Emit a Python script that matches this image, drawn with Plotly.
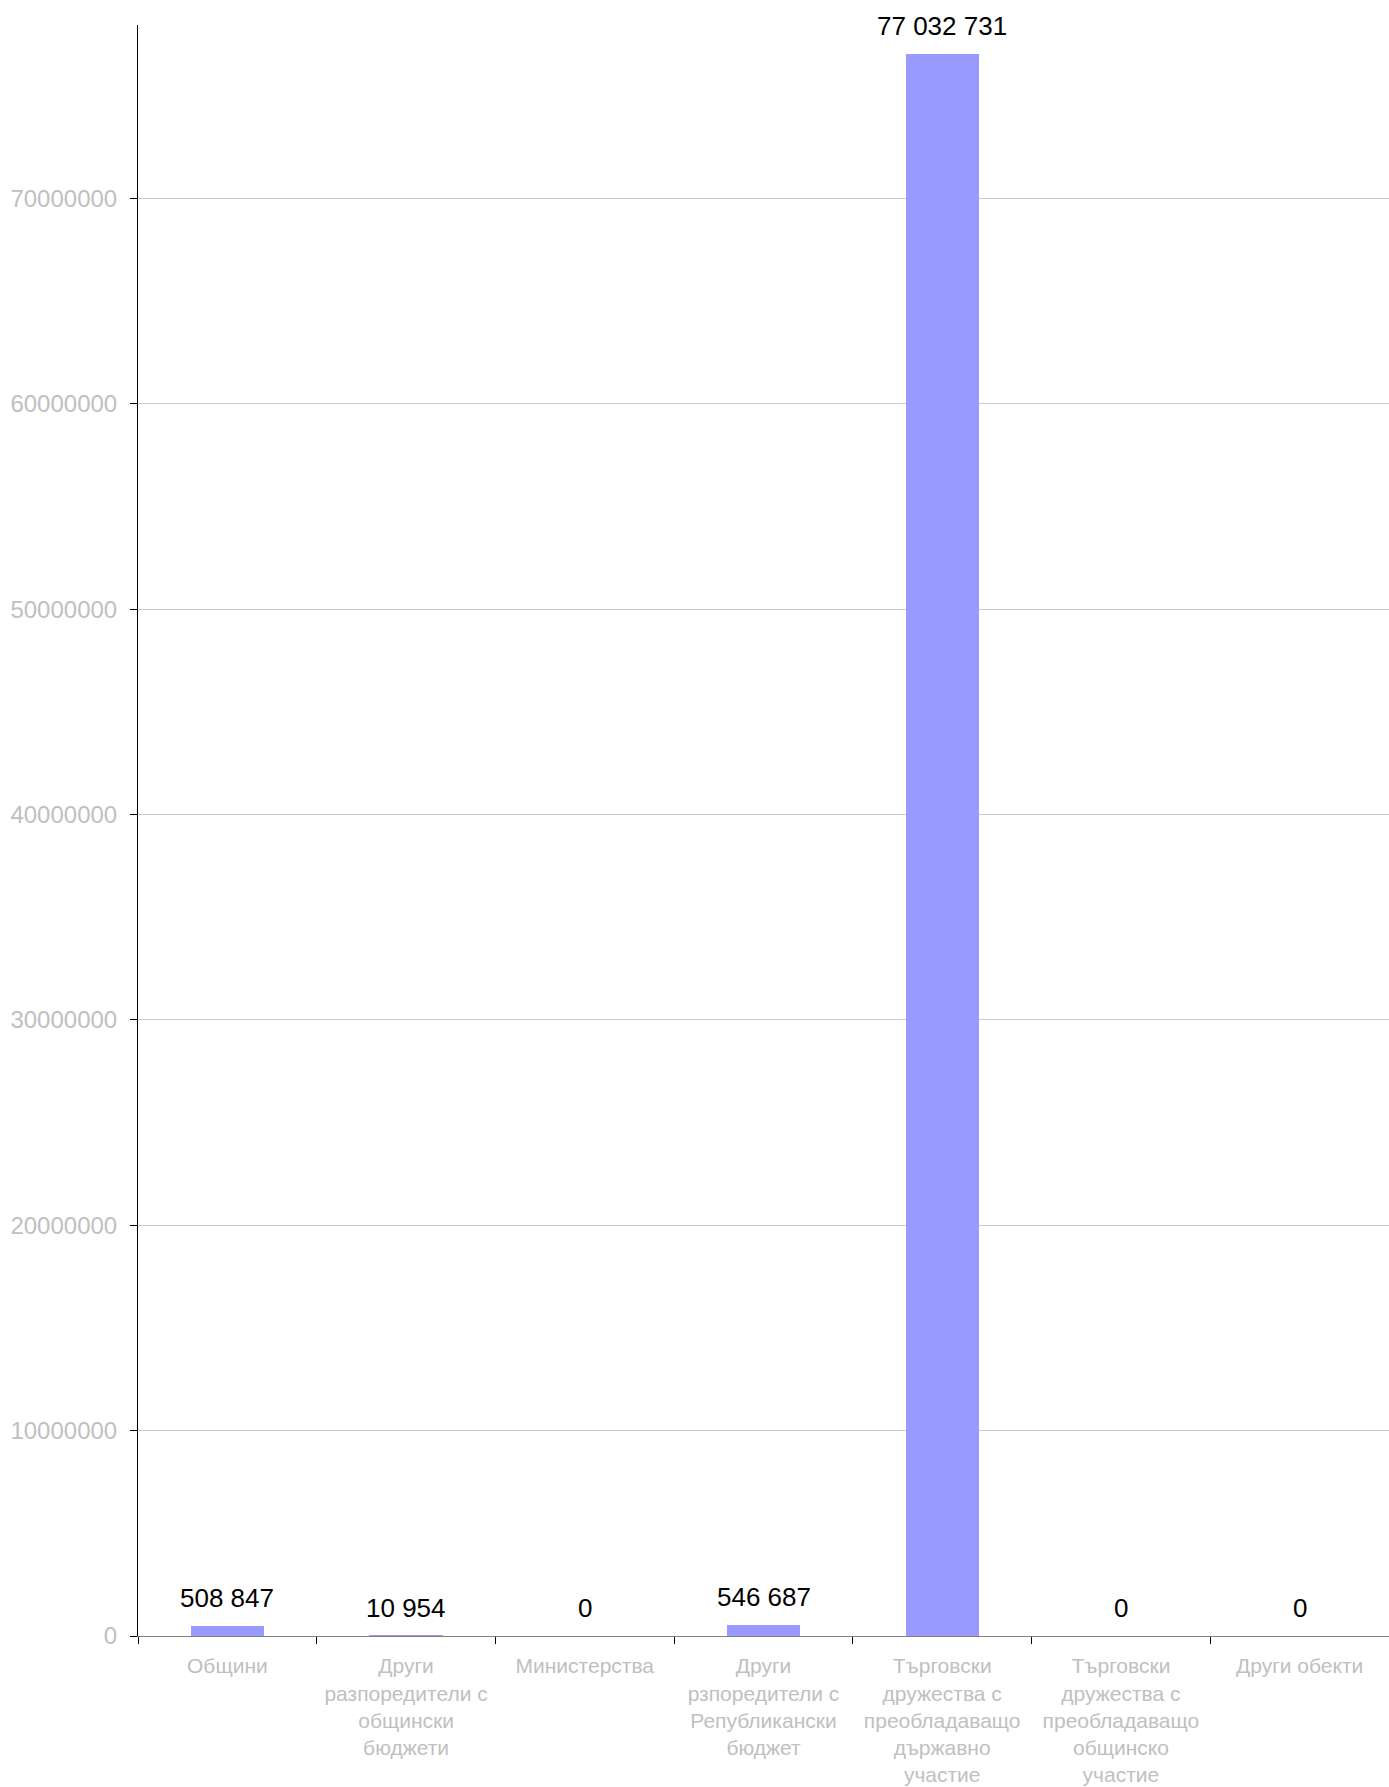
import plotly.graph_objects as go

categories = ["Общини", "Други разпоредители с общински бюджети", "Министерства",
              "Други рзпоредители с Републикански бюджет",
              "Търговски дружества с преобладаващо държавно участие",
              "Търговски дружества с преобладаващо общинско участие",
              "Други обекти"]
tick_labels = ["Общини", "Други<br>разпоредители с<br>общински<br>бюджети", "Министерства",
               "Други<br>рзпоредители с<br>Републикански<br>бюджет",
               "Търговски<br>дружества с<br>преобладаващо<br>държавно<br>участие",
               "Търговски<br>дружества с<br>преобладаващо<br>общинско<br>участие",
               "Други обекти"]
values = [508847, 10954, 0, 546687, 77032731, 0, 0]
y_ticks = [0, 10000000, 20000000, 30000000, 40000000, 50000000, 60000000, 70000000]


def fmt(v):
    return f"{v:,}".replace(",", " ")


fig = go.Figure(go.Bar(x=categories, y=values, width=0.41,
                       marker=dict(color="#9999FF", line=dict(width=0)),
                       hoverinfo="skip"))

for c, v in zip(categories, values):
    fig.add_annotation(x=c, y=v, text=fmt(v), showarrow=False, yanchor="bottom",
                       yshift=11, font=dict(family="Liberation Sans, Arial", size=26, color="#000000"))

fig.update_layout(
    width=1389, height=1787,
    margin=dict(l=138, r=0, t=25, b=151),
    paper_bgcolor="white", plot_bgcolor="white",
    showlegend=False, bargap=0,
    font=dict(family="Liberation Sans, Arial"),
)
fig.update_xaxes(
    type="category", tickvals=categories, ticktext=tick_labels,
    tickson="boundaries", ticks="outside", ticklen=7, tickcolor="#000000",
    showline=True, linecolor="#808080", linewidth=1, showgrid=False,
    tickfont=dict(size=21, color="#c0c0c0"), tickangle=0,
    automargin=False, ticklabelstandoff=11,
)
fig.update_yaxes(
    range=[0, 78440000], tickvals=y_ticks, tickformat="d",
    ticks="outside", ticklen=7, tickcolor="#000000",
    showline=True, linecolor="#000000", linewidth=1,
    showgrid=True, gridcolor="#cccccc", gridwidth=1, zeroline=False,
    tickfont=dict(size=24, color="#c0c0c0"),
    automargin=False, ticklabelstandoff=8,
)

fig.write_html("out.html", config={"displayModeBar": False},
               post_script="document.body.style.margin='0';document.body.style.overflow='hidden';")
